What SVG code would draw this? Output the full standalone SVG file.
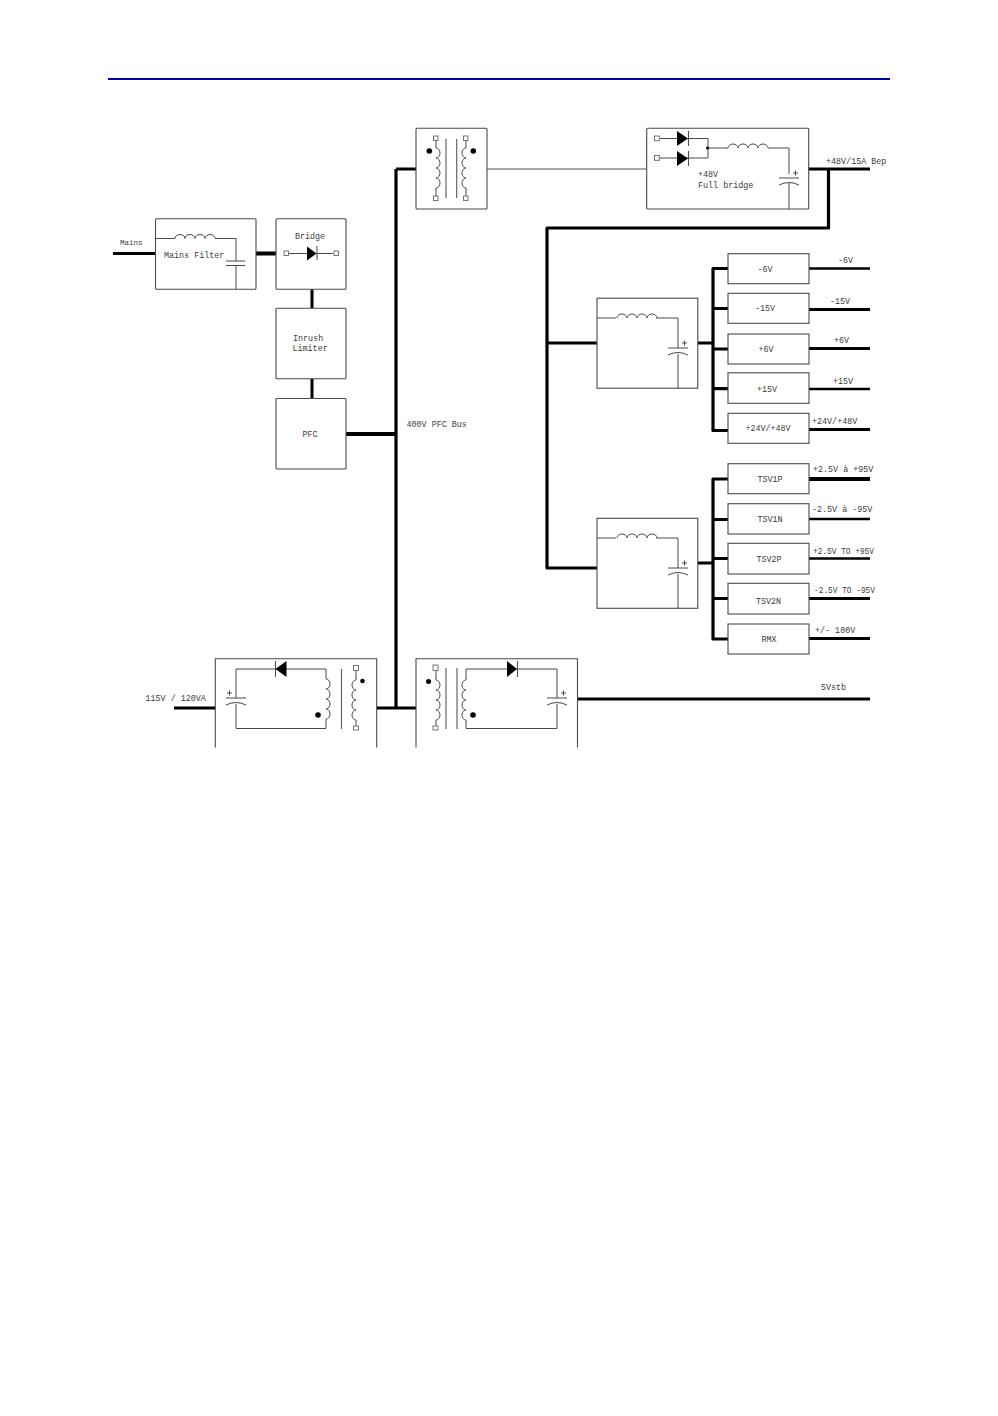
<svg xmlns="http://www.w3.org/2000/svg" width="998" height="1416" viewBox="0 0 998 1416">
<style>
.box{fill:#fff;stroke:#4a4a4a;stroke-width:1.1}
.w{fill:none;stroke:#4a4a4a;stroke-width:1}
.core{fill:none;stroke:#666;stroke-width:1.2}
.thick{fill:none;stroke:#000;stroke-width:3}
.fat{fill:none;stroke:#000;stroke-width:3.800}
.slim{fill:none;stroke:#000;stroke-width:2.400}
.bus{fill:none;stroke:#000;stroke-width:3.200;stroke-linejoin:round}
.thin{fill:none;stroke:#555;stroke-width:1}
.t{font-family:"Liberation Mono","DejaVu Sans Mono",monospace;font-size:8.400px;fill:#3c3c3c}
.m{text-anchor:middle}
.d{fill:#000;stroke:none}
.sq{fill:#fff;stroke:#666;stroke-width:.9}
</style>
<defs>
<path id="hc" class="w" d="M0 0a5 4 0 0 1 10 0a5 4 0 0 1 10 0a5 4 0 0 1 10 0a5 4 0 0 1 10 0"/>
<path id="vr" class="w" d="M0 0a4 5 0 0 1 0 10a4 5 0 0 1 0 10a4 5 0 0 1 0 10a4 5 0 0 1 0 10"/>
<path id="vl" class="w" d="M0 0a4 5 0 0 0 0 10a4 5 0 0 0 0 10a4 5 0 0 0 0 10a4 5 0 0 0 0 10"/>
<g id="pcap"><path class="w" d="M-10 0H10M-10 7Q0 2 10 7"/><path class="w" d="M4 -5H9M6.500 -7.500V-2.500"/></g>
</defs>
<rect width="998" height="1416" fill="#fff"/>
<path id="header-rule" d="M108 79H890" fill="none" stroke="#00009c" stroke-width="2"/>

<g id="connectors">
<path class="thick" d="M113 253.500H156M312 289V308M312 378V399M396 169H416M174 708H216M376 708H416M808 169H870"/>
<path class="fat" d="M255 253.500H276M346 434H396"/>
<path class="thin" d="M487 169H647"/>
<path class="bus" d="M396 169V708"/>
<path class="bus" d="M828.500 169V228H547V568H597M547 343H597"/>
<path class="bus" d="M729 268.500H713V430.500H729M698 343H713M713 308.500H729M713 349H729M713 388.700H729"/>
<path class="bus" d="M729 479H713V639H729M698 563H713M713 519.500H729M713 558.500H729M713 598.500H729"/>
<path class="slim" d="M809 268.500H870M809 389H870M809 558.500H870M809 519H870"/>
<path class="thick" d="M809 309.500H870M809 348.500H870M809 429.500H870M809 598.500H870M809 638.500H870M578 699H870"/>
<path class="fat" d="M809 479H870"/>
</g>

<g id="mains-filter">
<rect class="box" x="155.500" y="218.700" width="100.500" height="70.600" rx="1"/>
<path class="w" d="M156 238.500H175M215 238.500H236V261M236 266V289"/>
<use href="#hc" x="175" y="238.500"/>
<path class="w" d="M226 261H245M226 265.500H245"/>
<text class="t" x="164" y="257.500">Mains Filter</text>
</g>
<text id="mains-label" class="t" x="120" y="245" style="font-size:7.500px">Mains</text>

<g id="bridge">
<rect class="box" x="276" y="218.700" width="70" height="70.600" rx="1"/>
<path class="w" d="M289 253.500H333M317 246V260"/>
<path class="d" d="M307 246.500L316.500 253.500L307 260.500Z"/>
<rect class="sq" x="284" y="251" width="4.500" height="4.500"/>
<rect class="sq" x="334" y="251" width="4.500" height="4.500"/>
<text class="t m" x="310" y="238.500">Bridge</text>
</g>

<g id="inrush-limiter">
<rect class="box" x="276" y="308.200" width="70" height="70.500" rx="1"/>
<text class="t" x="293" y="341">Inrush</text>
<text class="t" x="292.500" y="351">Limiter</text>
</g>

<g id="pfc">
<rect class="box" x="276" y="398.500" width="70" height="70.500" rx="1"/>
<text class="t m" x="310" y="437">PFC</text>
</g>
<text id="bus-label" class="t" x="406.500" y="427">400V PFC Bus</text>

<g id="transformer-top">
<rect class="box" x="416" y="128.200" width="71" height="80.800" rx="1"/>
<path class="w" d="M436 141V148M436 188V196M466 141V148M466 188V196"/>
<use href="#vr" x="436" y="148"/><use href="#vl" x="466" y="148"/>
<path class="core" d="M446 139V198M456.700 139V198"/>
<rect class="sq" x="433.500" y="136" width="4.500" height="4.500"/>
<rect class="sq" x="463.500" y="136" width="4.500" height="4.500"/>
<rect class="sq" x="433.500" y="196" width="4.500" height="4.500"/>
<rect class="sq" x="463.500" y="196" width="4.500" height="4.500"/>
<circle class="d" cx="429.300" cy="151" r="2.800"/><circle class="d" cx="473.300" cy="151" r="2.800"/>
</g>

<g id="full-bridge">
<rect class="box" x="646.700" y="128.200" width="162" height="80.800" rx="1"/>
<path class="w" d="M660 138.500H708V158H660M708 148H728M768 148H789V174M789 182V209M688.500 131V146M688.500 151V166"/>
<use href="#hc" x="728" y="148"/>
<path class="d" d="M677 131L688 138.500L677 146ZM677 151L688 158.500L677 166Z"/>
<circle class="d" cx="707.500" cy="148" r="1.500"/>
<rect class="sq" x="654.500" y="136" width="4.800" height="4.800"/>
<rect class="sq" x="654.500" y="155.500" width="4.800" height="4.800"/>
<use href="#pcap" x="789" y="178"/>
<text class="t" x="698" y="177">+48V</text>
<text class="t" x="698" y="188">Full bridge</text>
</g>
<text id="out-48" class="t" x="826" y="163.500">+48V/15A Bep</text>

<g id="buck-1">
<rect class="box" x="597" y="298.200" width="100.800" height="90"/>
<path class="w" d="M597 318H616M656 318H678V348M678 354V388"/>
<use href="#hc" x="617" y="318"/>
<use href="#pcap" x="678" y="348"/>
</g>
<g id="buck-2">
<rect class="box" x="597" y="518.300" width="100.800" height="90"/>
<path class="w" d="M597 538H616M656 538H678V568M678 574V608"/>
<use href="#hc" x="617" y="538"/>
<use href="#pcap" x="678" y="568"/>
</g>

<g id="reg-m6"><rect class="box" x="728" y="253.700" width="81" height="30"/><text class="t m" x="765" y="272">-6V</text></g>
<g id="reg-m15"><rect class="box" x="728" y="293.300" width="81" height="30"/><text class="t m" x="765" y="311">-15V</text></g>
<g id="reg-p6"><rect class="box" x="728" y="334" width="81" height="30"/><text class="t m" x="766" y="352">+6V</text></g>
<g id="reg-p15"><rect class="box" x="728" y="372.800" width="81" height="30.500"/><text class="t m" x="767" y="391.500">+15V</text></g>
<g id="reg-24"><rect class="box" x="728" y="413.300" width="81" height="30"/><text class="t m" x="768" y="431">+24V/+48V</text></g>
<g id="tsv1p"><rect class="box" x="728" y="463.700" width="81" height="30"/><text class="t m" x="770" y="482">TSV1P</text></g>
<g id="tsv1n"><rect class="box" x="728" y="503.700" width="81" height="30.300"/><text class="t m" x="770" y="522">TSV1N</text></g>
<g id="tsv2p"><rect class="box" x="728" y="543.300" width="81" height="30.700"/><text class="t m" x="769" y="562">TSV2P</text></g>
<g id="tsv2n"><rect class="box" x="728" y="583.300" width="81" height="30.700"/><text class="t m" x="768.500" y="604">TSV2N</text></g>
<g id="rmx"><rect class="box" x="728" y="624" width="81" height="30"/><text class="t m" x="769" y="642">RMX</text></g>

<g id="output-labels">
<text class="t" x="838" y="263">-6V</text>
<text class="t" x="830" y="303.500">-15V</text>
<text class="t" x="834" y="343">+6V</text>
<text class="t" x="833" y="384">+15V</text>
<text class="t" x="812" y="424">+24V/+48V</text>
<text class="t" x="813" y="471.500">+2.5V à +95V</text>
<text class="t" x="812" y="511.500">-2.5V à -95V</text>
<text class="t" x="813" y="553.500" textLength="61" lengthAdjust="spacingAndGlyphs">+2.5V TO +95V</text>
<text class="t" x="814" y="592.500" textLength="61" lengthAdjust="spacingAndGlyphs">-2.5V TO -95V</text>
<text class="t" x="815" y="632.500">+/- 100V</text>
<text class="t" x="821" y="690">5Vstb</text>
</g>

<g id="flyback-left">
<path class="box" d="M215.300 747.500V658.700H376.700V747.500"/>
<path class="w" d="M236 698V669H326V679M326 719V728.500H236V704M356 670.500V680M356 720V726M275.500 661V677"/>
<use href="#vr" x="326" y="679"/>
<use href="#vl" x="356" y="680"/>
<path class="core" d="M341.500 669V729"/>
<path class="d" d="M286.500 661L275.500 669L286.500 677Z"/>
<use href="#pcap" transform="translate(236 698) scale(-1 1)"/>
<circle class="d" cx="318" cy="715" r="2.800"/>
<circle class="d" cx="362.500" cy="681" r="2.300"/>
<rect class="sq" x="353.500" y="665.500" width="5" height="5"/>
<rect class="sq" x="353.500" y="726" width="5" height="4"/>
</g>
<text id="in-115" class="t" x="145.500" y="701">115V / 120VA</text>

<g id="flyback-right">
<path class="box" d="M416 747.500V658.700H577.500V747.500"/>
<path class="w" d="M436 670.500V680M436 720V726M466 680V669H557V698M557 704V728.500H466V720M517.500 661V677"/>
<use href="#vr" x="436" y="680"/>
<use href="#vl" x="466" y="680"/>
<path class="core" d="M446 668V729M457 668V729"/>
<path class="d" d="M507 661L517 669L507 677Z"/>
<use href="#pcap" x="557" y="698"/>
<circle class="d" cx="428.500" cy="681.500" r="2.500"/>
<circle class="d" cx="473" cy="715" r="2.800"/>
<rect class="sq" x="433" y="665" width="5" height="5.500"/>
<rect class="sq" x="433" y="726" width="5" height="4"/>
</g>
</svg>
